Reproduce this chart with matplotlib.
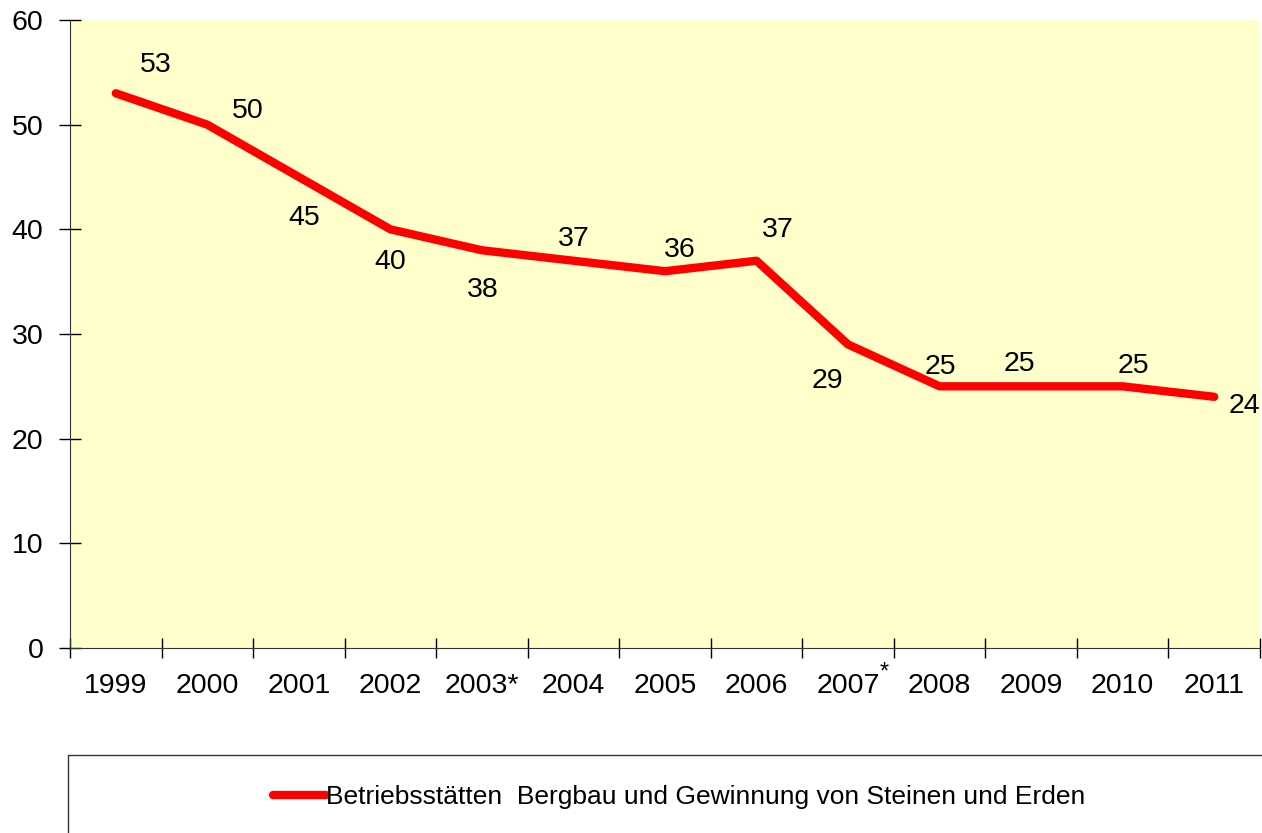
import matplotlib.pyplot as plt
from matplotlib.patches import Rectangle

plt.rcParams['font.family'] = ['Liberation Sans', 'DejaVu Sans']

# Daten
jahre = ['1999', '2000', '2001', '2002', '2003*', '2004', '2005', '2006',
         '2007', '2008', '2009', '2010', '2011']
betriebe = [53, 50, 45, 40, 38, 37, 36, 37, 29, 25, 25, 25, 24]
serie_name = 'Betriebsstätten  Bergbau und Gewinnung von Steinen und Erden'

# Versatz der Wertelabels (Pixel)
versatz = [(40, 28), (40, 14), (5, -41), (0, -33), (1, -40), (0, 22), (15, 21),
           (21, 31), (-21, -37), (1, 19), (-12, 22), (11, 20), (30, -9)]

fig = plt.figure(figsize=(12.62, 8.33), dpi=100)
ax = fig.add_axes([70 / 1262, (833 - 648) / 833, 1190 / 1262, 628 / 833])
ax.set_facecolor('#FFFFCC')

x = list(range(len(jahre)))
linie, = ax.plot(x, betriebe, color='#FF0000', lw=6, solid_capstyle='round',
                 solid_joinstyle='round', label=serie_name)

for xi, v, (dx, dy) in zip(x, betriebe, versatz):
    ax.annotate(str(v), (xi, v), xytext=(dx * 0.72, dy * 0.72), textcoords='offset points',
                ha='center', va='center', fontsize=20.5)

ax.set_xlim(-0.5, len(jahre) - 0.5)
ax.set_ylim(0, 60)
ax.set_yticks(range(0, 61, 10))
ax.set_xticks([i - 0.5 for i in range(len(jahre) + 1)], minor=False)
ax.set_xticklabels([])
ax.set_xticks(x, minor=True)
ax.set_xticklabels(jahre, minor=True)
ax.tick_params(axis='x', which='minor', length=0, pad=18, labelsize=20.5)
ax.tick_params(axis='x', which='major', direction='inout', length=14, width=1)
ax.tick_params(axis='y', direction='inout', length=16, width=1, labelsize=20.5, pad=11)

# Stern bei 2007 hochgestellt
ax.annotate('*', xy=(8, 0), xycoords=('data', 'axes fraction'), xytext=(26, -18),
            textcoords='offset points', ha='center', va='center', fontsize=17)

for s in ['top', 'right']:
    ax.spines[s].set_visible(False)
for s in ['left', 'bottom']:
    ax.spines[s].set_color('#333333')

# Legendenkasten
fig.patches.append(Rectangle((68 / 1262, -0.05), 1.0, (833 - 755) / 833 + 0.05,
                             transform=fig.transFigure, fill=False,
                             edgecolor='#333333', lw=1))
fig.legend(handles=[linie], loc='center', bbox_to_anchor=(679 / 1262, (833 - 797) / 833),
           frameon=False, fontsize=19, handlelength=2.0, handletextpad=0.0)

fig.savefig('out.png', dpi=100)
